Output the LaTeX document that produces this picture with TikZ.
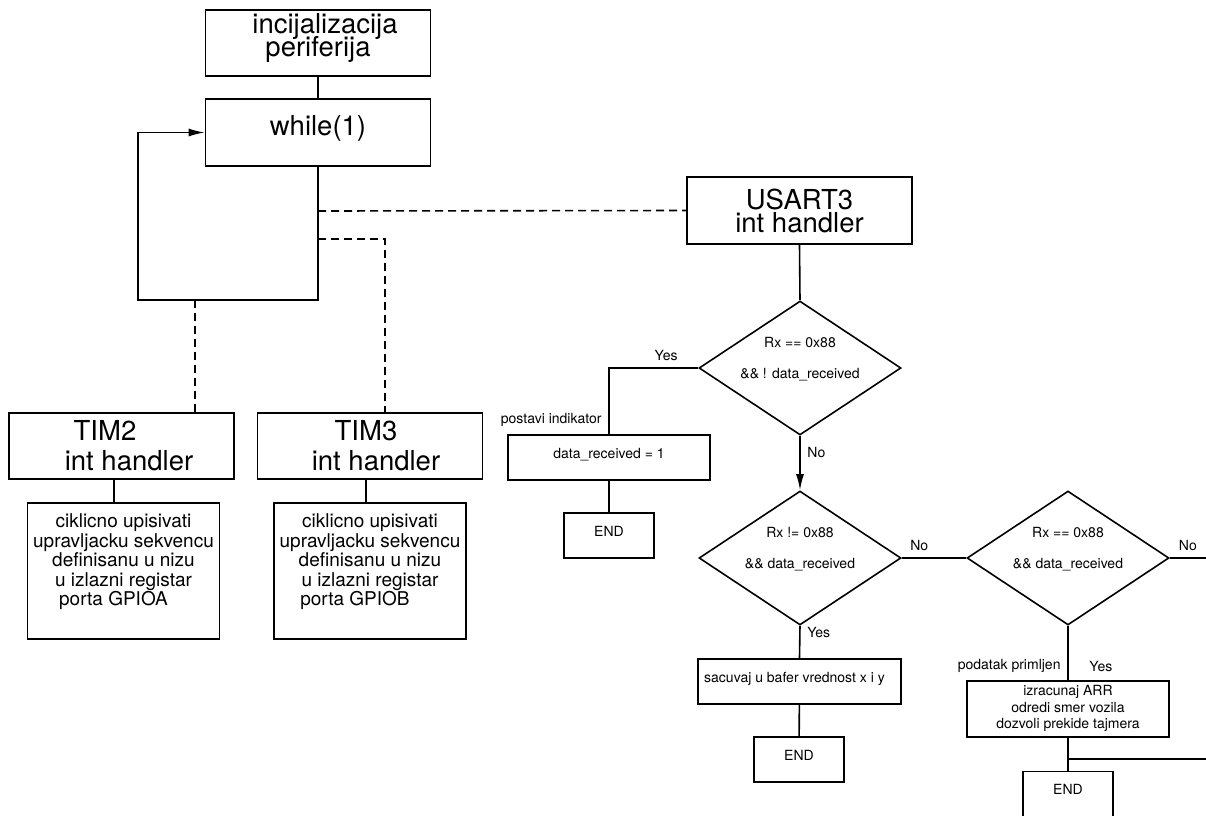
\documentclass[tikz,border=0pt]{standalone}
\usepackage{fontspec}
\setmainfont{TeX Gyre Heros}
\usetikzlibrary{shapes.geometric,arrows.meta,calc}
\tikzset{>={Latex[length=8pt,width=4pt]}}
\tikzset{ box/.style={draw,rectangle,inner sep=0pt,align=center},
  bigbox/.style={box,minimum width=112.5pt,minimum height=33.25pt,font={\fontsize{13.75}{11.5}\selectfont\lineskiplimit-10pt}},
  timbox/.style={bigbox,font=\fontsize{13.75}{15}\selectfont},
  codebox/.style={box},
  proc/.style={box,text height=11.5pt,text depth=11pt,font=\fontsize{7}{8.25}\selectfont},
  decision/.style={draw,diamond,inner sep=0pt,minimum width=101pt,minimum height=67pt},
  lbl/.style={font=\fontsize{7}{8.25}\selectfont},
  dline/.style={dash pattern=on 4pt off 2.5pt} }
\newcommand{\codetext}[1]{\parbox[c][68pt][t]{96pt}{\fontsize{9.5}{9.75}\selectfont\centering\vspace*{5.5pt}#1}}
\newcommand{\cond}[2]{#1\\[7.25pt]#2}

\begin{document}
\begin{tikzpicture}[x=0.5pt,y=-0.5pt,line width=0.8pt]
  \useasboundingbox (0,0) rectangle (1206,815);
  % main loop
  \node[bigbox] (init) at (318,43) {\hspace*{7pt}incijalizacija\\periferija\rule[-8.5pt]{0pt}{0pt}};
  \node[bigbox,text height=18pt,text depth=15.5pt] (while) at (318,132.5) {while(1)};
  \coordinate (loopbot) at (318,300);
  \draw (init) -- (while);
  \draw[->] (while.south) -- (loopbot) -- ++(-180,0) |- (while.west);
  % timer handlers
  \node[timbox] (tim2) at (121.5,446) {TIM2\hspace*{16.5pt}\\\hspace*{7.5pt}int handler};
  \node[timbox] (tim3) at (370,446) {TIM3\hspace*{4pt}\\\hspace*{6pt}int handler};
  \node[codebox] (tim2code) at (123.5,571) {\codetext{ciklicno upisivati\\upravljacku sekvencu\\definisanu u nizu\\u izlazni registar\\porta GPIOA\hspace*{10pt}}};
  \node[codebox] (tim3code) at (370,571) {\codetext{ciklicno upisivati\\upravljacku sekvencu\\definisanu u nizu\\u izlazni registar\hspace*{4pt}\\porta GPIOB\hspace*{15pt}}};
  \draw ([xshift=-3.75pt]tim2.south) -- ([xshift=-3.75pt]tim2.south |- tim2code.north);
  \draw ([xshift=-2pt]tim3.south) -- ([xshift=-2pt]tim3.south |- tim3code.north);
  % interrupt links
  \node[bigbox] (usart) at (799.5,210.5) {USART3\\int handler};
  \coordinate (tap1) at (318,211);
  \coordinate (tap2) at (318,239);
  \draw[dline] (tap1) -- (usart.west);
  \draw[dline] (tap2) -| ([xshift=7.5pt]tim3.north);
  \draw[dline] ([xshift=36.75pt]tim2.north |- loopbot) -- ([xshift=36.75pt]tim2.north);
  % USART3 handler
  \node[decision,label={[lbl,align=center,yshift=4.6pt]center:\cond{Rx == 0x88}{\&\& ! data\_received}}] (d1) at (800,368) {};
  \draw (usart.south) -- (d1.north);
  \node[proc,minimum width=101pt] (setind) at (609,457.5) {data\_received = 1};
  \node[proc,minimum width=45pt] (end1) at (609,535.5) {END};
  \draw (d1.west) -| node[lbl,pos=0.18,above] (yes1) {Yes} node[lbl,pos=1,above left] (note1) {postavi indikator} (setind.north);
  \draw (setind) -- (end1);
  \node[decision,label={[lbl,align=center,yshift=4.6pt]center:\cond{Rx != 0x88}{\&\& data\_received}}] (d2) at (800,558) {};
  \draw[->] (d1.south) -- node[lbl,pos=0.3,right] (no1) {No} (d2.north);
  \node[proc,minimum width=101.5pt] (save) at (799.5,681.5) {sacuvaj u bafer vrednost x i y\hspace*{5pt}};
  \node[proc,minimum width=45pt] (end2) at (799,759.5) {END};
  \draw (d2.south) -- node[lbl,pos=0.2,right] (yes2) {Yes} (save.north);
  \draw (save) -- (end2);
  \node[decision,label={[lbl,align=center,yshift=4.6pt]center:\cond{Rx == 0x88}{\&\& data\_received}}] (d3) at (1068,558) {};
  \coordinate (d3out) at (1206,558);
  \draw (d2.east) -- node[lbl,pos=0.27,above] (no2) {No} (d3.west);
  \draw (d3.east) -- node[lbl,above] (no3) {No} (d3out);
  \node[box,minimum width=101pt,minimum height=28pt,font=\fontsize{7}{8.25}\selectfont] (calc) at (1068,709) {izracunaj ARR\\odredi smer vozila\\dozvoli prekide tajmera\rule[-2pt]{0pt}{0pt}};
  \draw (d3.south) -- node[lbl,pos=0.75,right=7pt] (yes3) {Yes} node[lbl,pos=1,above left] (note2) {podatak primljen} (calc.north);
  \node[proc,minimum width=45pt] (end3) at (1068,794) {END};
  \coordinate (calcout) at (1206,759);
  \draw (calc) -- (end3);
  \draw (calcout -| calc.south) -- (calcout);
\end{tikzpicture}
\end{document}
